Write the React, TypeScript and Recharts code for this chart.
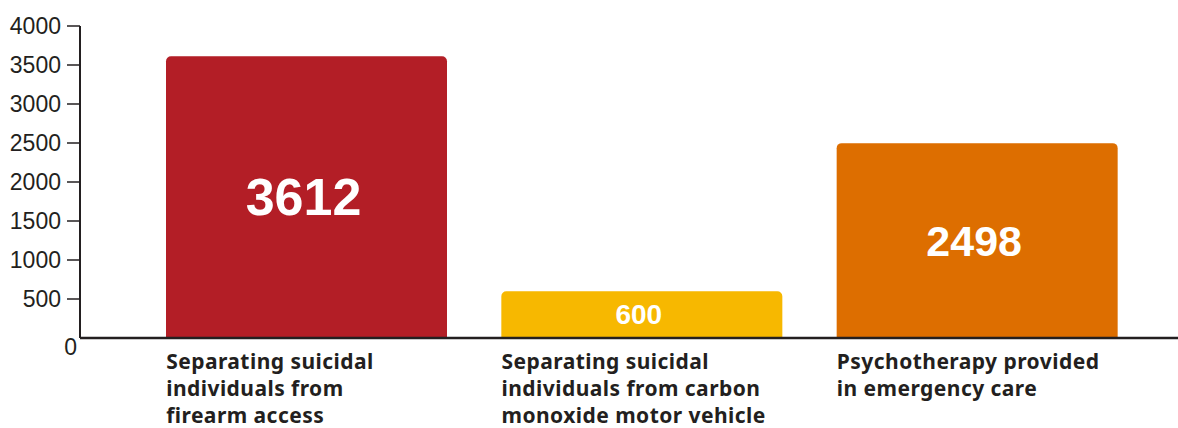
import React from 'react'
import { BarChart, Bar, XAxis, YAxis, Cell, LabelList } from 'recharts'

const categories = [
  'Separating suicidal\nindividuals from\nfirearm access',
  'Separating suicidal\nindividuals from carbon\nmonoxide motor vehicle',
  'Psychotherapy provided\nin emergency care',
]
const values = [3612, 600, 2498]
const yTicks = [0, 500, 1000, 1500, 2000, 2500, 3000, 3500, 4000]

const barColors = ['#b31e26', '#f7b800', '#dd6e00']
const valueFontSizes = [52, 28, 43]
const INK = '#231f20'
const BAR_WIDTH = 281

const data = categories.map((name, i) => ({ name, value: values[i] }))

function YTick({ x, y, payload }: any) {
  if (payload.value === 0) {
    return (
      <text x={x - 3} y={y + 9} textAnchor="end" dominantBaseline="central"
        fill={INK} fontSize={23} fontFamily="'Liberation Sans', Arial, sans-serif">0</text>
    )
  }
  return (
    <g>
      <line x1={x - 13} x2={x} y1={y} y2={y} stroke={INK} strokeWidth={1.5} />
      <text x={x - 19} y={y} textAnchor="end" dominantBaseline="central"
        fill={INK} fontSize={23} fontFamily="'Liberation Sans', Arial, sans-serif">
        {payload.value}
      </text>
    </g>
  )
}

function XTick({ x, y, payload }: any) {
  const lines = String(payload.value).split('\n')
  return (
    <text x={x - BAR_WIDTH / 2} y={y + 31} fill={INK} fontSize={21} fontWeight={700}
      letterSpacing={0.45} fontFamily="'Noto Sans', sans-serif">
      {lines.map((l, i) => (
        <tspan key={i} x={x - BAR_WIDTH / 2} dy={i === 0 ? 0 : 27}>{l}</tspan>
      ))}
    </text>
  )
}

function ValueLabel({ x, y, width, height, value, index }: any) {
  return (
    <text x={x + width / 2 - 3} y={y + height / 2} textAnchor="middle" dominantBaseline="central"
      fill="#ffffff" fontWeight={700} fontSize={valueFontSizes[index]}
      fontFamily="'Liberation Sans', Arial, sans-serif">
      {value}
    </text>
  )
}

export default function App() {
  return (
    <div style={{ position: 'absolute', left: 8, top: 8, width: 1170, height: 420 }}>
      <BarChart width={1170} height={420} data={data}
        margin={{ top: 18, right: 0, bottom: 0, left: 0 }}>
        <YAxis domain={[0, 4000]} ticks={yTicks} interval={0} width={72}
          axisLine={{ stroke: INK, strokeWidth: 2 }} tickLine={false}
          tickSize={0} tickMargin={0} tick={<YTick />} allowDataOverflow />
        <XAxis dataKey="name" height={90} padding={{ left: 59, right: 33 }}
          axisLine={{ stroke: INK, strokeWidth: 2.5 }} tickLine={false}
          tickSize={0} tickMargin={0} tick={<XTick />} interval={0} />
        <Bar dataKey="value" barSize={BAR_WIDTH} radius={[5, 5, 0, 0]} isAnimationActive={false}>
          {data.map((_, i) => (
            <Cell key={i} fill={barColors[i]} />
          ))}
          <LabelList dataKey="value" content={<ValueLabel />} />
        </Bar>
      </BarChart>
    </div>
  )
}
